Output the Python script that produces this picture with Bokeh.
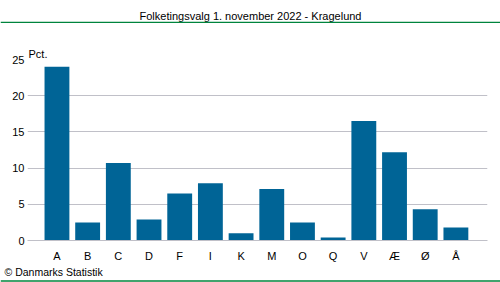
from bokeh.plotting import figure
from bokeh.layouts import column
from bokeh.models import Range1d, FixedTicker, Span, Title
from bokeh.core.properties import value
from bokeh.embed import file_html
from bokeh.resources import INLINE

categories = ["A", "B", "C", "D", "F", "I", "K", "M", "O", "Q", "V", "Æ", "Ø", "Å"]
values = [24.0, 2.5, 10.7, 2.9, 6.5, 7.9, 1.0, 7.1, 2.5, 0.4, 16.5, 12.2, 4.3, 1.8]
y_ticks = [0, 5, 10, 15, 20, 25]
title_text = "Folketingsvalg 1. november 2022 - Kragelund"
unit_text = "Pct."
footer_text = "© Danmarks Statistik"

FONT = "Liberation Sans"
BAR = "#006496"
GRID = "#c0c0c8"
GREEN = "#00843d"
W = 500


def strip(h, y_top):
    f = figure(width=W, height=h, output_backend="svg", toolbar_location=None,
               x_range=Range1d(0, W), y_range=Range1d(y_top + h, y_top),
               x_axis_type=None, y_axis_type=None, frame_align=False,
               min_border_left=0, min_border_right=0, min_border_top=0, min_border_bottom=0)
    f.outline_line_color = None
    f.xgrid.grid_line_color = None
    f.ygrid.grid_line_color = None
    f.background_fill_color = "white"
    f.border_fill_color = "white"
    return f


# header strip (page y 0..23)
top = strip(23, 0)
top.text(x=[250], y=[15.5], text=[title_text], text_align="center", text_baseline="middle",
         text_font=value(FONT), text_font_size="11px", text_color="#000000")
top.add_layout(Span(location=22, dimension="width", line_color=GREEN, line_width=1.5))

# main chart (page y 23..264)
xs = list(range(len(categories)))
p = figure(width=W, height=241, output_backend="svg", toolbar_location=None,
           x_range=Range1d(-0.96, len(categories) + 0.03), y_range=Range1d(0, 25),
           frame_align=False,
           min_border_left=27, min_border_right=13, min_border_top=36,
           min_border_bottom=24)
p.outline_line_color = None
p.background_fill_color = "white"
p.border_fill_color = "white"

p.add_layout(Title(text=unit_text, align="left", offset=1, standoff=0,
                   text_font=FONT, text_font_size="11px", text_font_style="normal",
                   text_color="#000000"), "above")

p.vbar(x=xs, top=values, width=0.81, fill_color=BAR, line_color=None)

p.xaxis.ticker = FixedTicker(ticks=xs)
p.xaxis.major_label_overrides = {i: c for i, c in enumerate(categories)}
p.xaxis.major_tick_line_color = None
p.xaxis.major_tick_out = 0
p.xaxis.major_tick_in = 0
p.xaxis.minor_tick_line_color = None
p.xaxis.axis_line_color = GRID
p.xaxis.major_label_text_font = FONT
p.xaxis.major_label_text_font_size = "11px"
p.xaxis.major_label_standoff = 9
p.xaxis.major_label_text_color = "#000000"

p.yaxis.ticker = FixedTicker(ticks=y_ticks)
p.yaxis.major_tick_line_color = None
p.yaxis.major_tick_out = 0
p.yaxis.major_tick_in = 0
p.yaxis.minor_tick_line_color = None
p.yaxis.axis_line_color = None
p.yaxis.major_label_text_font = FONT
p.yaxis.major_label_text_font_size = "11px"
p.yaxis.major_label_standoff = 3
p.yaxis.major_label_text_color = "#000000"

p.xgrid.grid_line_color = None
p.ygrid.grid_line_color = GRID
p.ygrid.grid_line_width = 1

# footer strip (page y 264..282)
bot = strip(18, 264)
bot.text(x=[4], y=[271], text=[footer_text], text_align="left", text_baseline="middle",
         text_font=value(FONT), text_font_size="10.5px", text_color="#000000")
bot.add_layout(Span(location=280.5, dimension="width", line_color=GREEN, line_width=1.5))

layout = column(top, p, bot, spacing=0)
open("out.html", "w").write(file_html(layout, INLINE))
